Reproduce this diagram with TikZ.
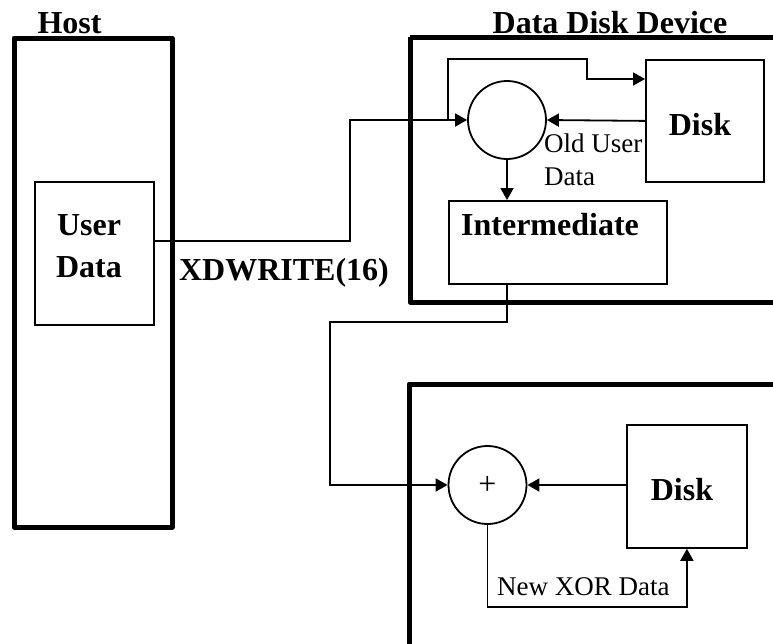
\documentclass[tikz,border=0pt]{standalone}
\usepackage{fontspec}
\setmainfont{Liberation Serif}
\usetikzlibrary{arrows.meta}
\tikzset{
  thin box/.style={draw, line width=1.8pt, rectangle, inner sep=0pt},
  thick box/.style={draw, line width=5pt, line join=round},
  sum/.style={draw, line width=1.8pt, circle, minimum size=78pt, inner sep=0pt, font=\fontsize{32pt}{34pt}\selectfont},
  conn/.style={line width=1.8pt, -{Triangle[length=12pt,width=13pt]}},
  bold label/.style={font=\fontsize{32pt}{36pt}\selectfont\bfseries, inner sep=0pt, anchor=base},
  plain label/.style={font=\fontsize{27pt}{30pt}\selectfont, inner sep=0pt, anchor=base west},
}
\begin{document}
\begin{tikzpicture}[x=1pt,y=-1pt]
\useasboundingbox (0,0) rectangle (773,643);
\clip (0,0) rectangle (773,643);
% outer frames
\draw[thick box] (14,38) rectangle (172,527);
\draw[thick box] (410,37) -- (800,37);
\draw[thick box] (800,302) -- (410,302) -- (410,37);
\draw[thick box] (800,384) -- (409,384) -- (409,680);
% titles
\node[bold label] (thost) at (69.5,33) {Host};
\node[bold label] (tdev) at (610,33) {Data Disk Device};
% boxes
\node[thin box, minimum width=119pt, minimum height=143pt, anchor=north west] (ud) at (34,181) {};
\node[bold label] (tuser) at (89,235) {User};
\node[bold label] (tdata) at (89,277) {Data};
\node[thin box, minimum width=118pt, minimum height=122pt, anchor=north west] (disk1) at (645,59) {};
\node[bold label] (tdisk1) at (700,135) {Disk};
\node[thin box, minimum width=218pt, minimum height=83pt, anchor=north west] (inter) at (448,200) {};
\node[bold label] (tinter) at (550,235) {Intermediate};
\node[thin box, minimum width=120pt, minimum height=123pt, anchor=north west] (disk2) at (626,424) {};
\node[bold label] (tdisk2) at (682,500) {Disk};
\node[sum] (x1) at (507,120) {};
\node[sum] (x2) at (487.5,485) {+};
% labels
\node[bold label] (txd) at (284,280) {XDWRITE(16)};
\node[plain label] (told) at (544,152) {Old User};
\node[plain label] (toldd) at (544,185) {Data};
\node[plain label] (tnew) at (497,595) {New XOR Data};
% connectors
\coordinate (udout) at (153,241);
\draw[conn] (udout) -- (350,241) -- (350,120) -- (x1.west);
\draw[conn] (448,120) -- (448,59) -- (587,59) -- (587,79) -- (disk1.west |- 0,79);
\draw[conn] (disk1.west) -- (x1.east);
\draw[conn] (x1.south) -- (x1.south |- inter.north);
\draw[conn] (x1.south |- inter.south) -- (507,322) -- (330,322) -- (330,485) -- (x2.west);
\draw[conn] (disk2.west |- x2.east) -- (x2.east);
\draw[conn] (x2.south) -- (x2.south |- 0,607) -| (disk2.south);
\end{tikzpicture}
\end{document}
